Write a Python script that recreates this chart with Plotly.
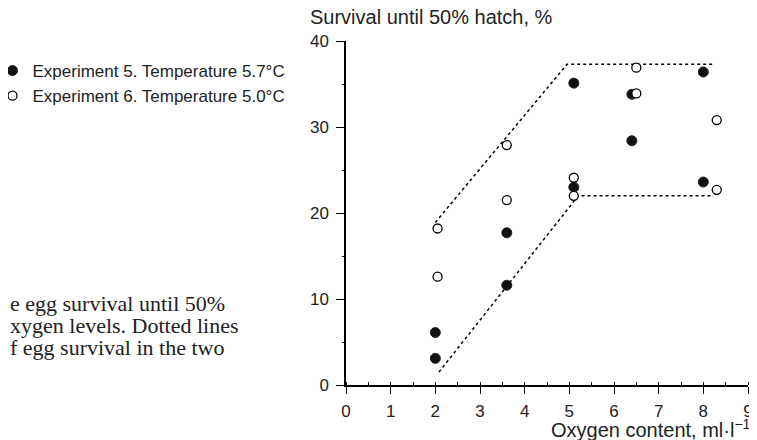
import plotly.graph_objects as go

# Experiment 5 (filled circles)
exp5_x = [2.0, 2.0, 3.6, 3.6, 5.1, 5.1, 6.4, 6.4, 8.0, 8.0]
exp5_y = [3.1, 6.1, 11.6, 17.7, 23.0, 35.1, 28.4, 33.8, 23.6, 36.4]

# Experiment 6 (open circles)
exp6_x = [2.05, 2.05, 3.6, 3.6, 5.1, 5.1, 6.5, 6.5, 8.3, 8.3]
exp6_y = [12.6, 18.2, 21.5, 27.9, 22.0, 24.1, 33.9, 36.9, 22.7, 30.8]

# Dotted envelope lines
upper_x = [2.0, 4.95, 8.2]
upper_y = [18.9, 37.3, 37.3]
lower_x = [2.08, 5.2, 8.2]
lower_y = [1.5, 22.0, 22.0]

x_ticks = [0, 1, 2, 3, 4, 5, 6, 7, 8, 9]
y_ticks = [0, 10, 20, 30, 40]

caption_lines = ["e egg survival until 50%", "xygen levels. Dotted lines", "f egg survival in the two"]

# page body has an 8px margin: the figure is offset by 8px in the window
OFF = 8
W, H = 757 - OFF, 440 - OFF
L, R, T, B = 346 - OFF, 9, 41 - OFF, 55
PW, PH = W - L - R, H - T - B


def px_x(p):  # window pixel -> paper x
    return (p - OFF - L) / PW


def px_y(p):  # window pixel -> paper y
    return (H - B - (p - OFF)) / PH


fig = go.Figure()
fig.add_trace(go.Scatter(x=upper_x, y=upper_y, mode="lines",
                         line=dict(color="black", dash="dot", width=1.5),
                         showlegend=False, hoverinfo="skip"))
fig.add_trace(go.Scatter(x=lower_x, y=lower_y, mode="lines",
                         line=dict(color="black", dash="dot", width=1.5),
                         showlegend=False, hoverinfo="skip"))
fig.add_trace(go.Scatter(x=exp5_x, y=exp5_y, mode="markers",
                         name="Experiment 5. Temperature 5.7°C",
                         marker=dict(symbol="circle", size=10, color="#111111",
                                     line=dict(color="#222222", width=1))))
fig.add_trace(go.Scatter(x=exp6_x, y=exp6_y, mode="markers",
                         name="Experiment 6. Temperature 5.0°C",
                         marker=dict(symbol="circle", size=9, color="white",
                                     line=dict(color="black", width=1.3))))

font_sans = "Liberation Sans, Arial, sans-serif"
for i, t in enumerate(caption_lines):
    fig.add_annotation(text=t, xref="paper", yref="paper",
                       x=px_x(OFF), y=px_y(303 + i * 22),
                       xanchor="left", yanchor="middle", showarrow=False,
                       font=dict(family="Liberation Serif, Times New Roman, serif", size=22, color="#222222"))

fig.add_annotation(text="Survival until 50% hatch, %", xref="paper", yref="paper",
                   x=px_x(308), y=px_y(17), xanchor="left", yanchor="middle",
                   showarrow=False, font=dict(family=font_sans, size=20, color="#222222"))
fig.add_annotation(text="Oxygen content, ml·l<sup>−1</sup>", xref="paper", yref="paper",
                   x=px_x(753), y=px_y(428), xanchor="right", yanchor="middle",
                   showarrow=False, font=dict(family=font_sans, size=20, color="#222222"))

fig.update_layout(
    width=W, height=H,
    margin=dict(l=L, r=R, t=T, b=B, autoexpand=False),
    paper_bgcolor="white", plot_bgcolor="white",
    font=dict(family=font_sans, size=17, color="#222222"),
    showlegend=True,
    legend=dict(x=px_x(-7.5), y=px_y(53), xanchor="left", yanchor="top",
                font=dict(size=17, color="#222222"), bgcolor="rgba(0,0,0,0)",
                itemwidth=30, tracegroupgap=0),
    xaxis=dict(range=[0, 9], tickvals=x_ticks, ticks="outside", ticklen=7,
               showline=True, linecolor="black", linewidth=1.5, showgrid=False,
               zeroline=False, tickfont=dict(size=17), tickcolor="black",
               ticklabeloverflow="allow", ticklabelstandoff=3,
               minor=dict(dtick=0.5, ticks="inside", ticklen=3, tickcolor="black")),
    yaxis=dict(range=[0, 40], tickvals=y_ticks, ticks="outside", ticklen=8,
               showline=True, linecolor="black", linewidth=1.5, showgrid=False,
               zeroline=False, tickfont=dict(size=17), tickcolor="black",
               ticklabeloverflow="allow", ticklabelstandoff=4,
               minor=dict(dtick=5, ticks="outside", ticklen=2, tickcolor="black")),
)

fig.write_html("out.html")
